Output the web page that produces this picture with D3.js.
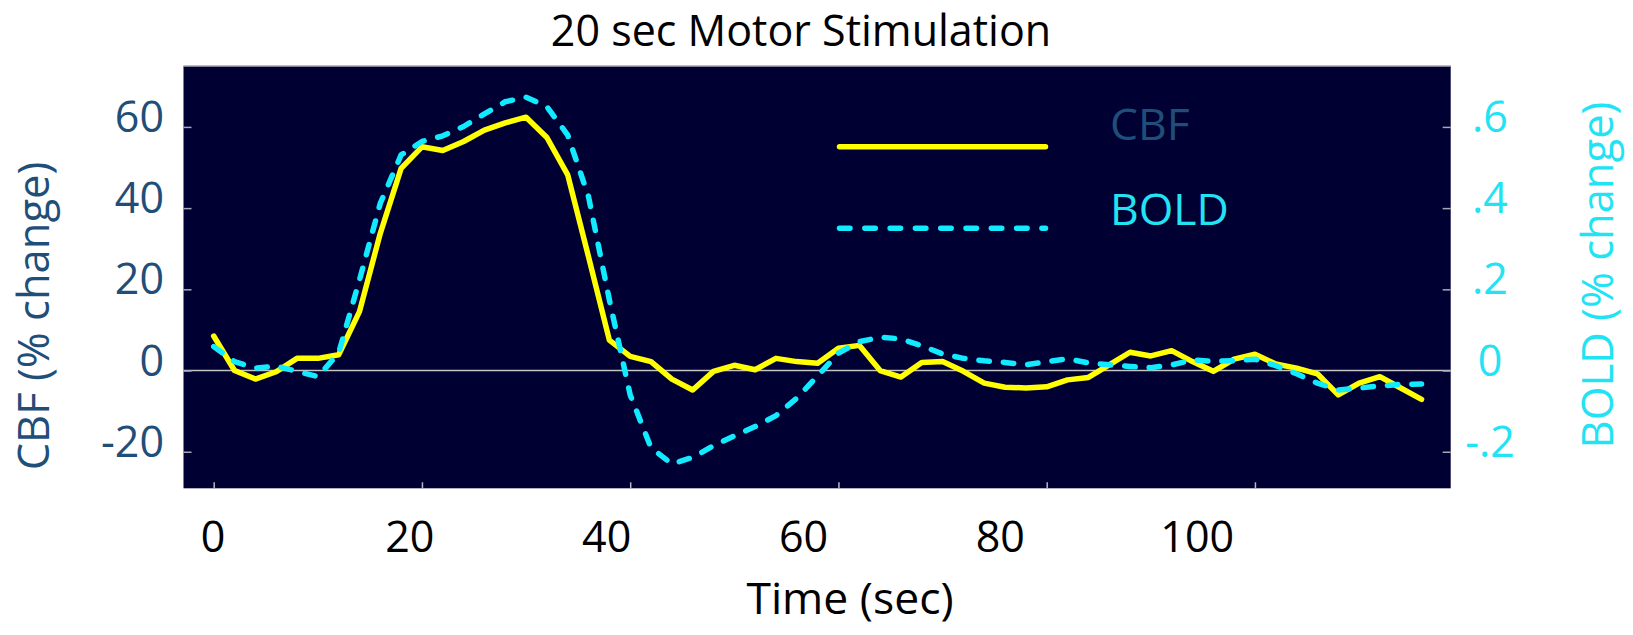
<!DOCTYPE html>
<html>
<head>
<meta charset="utf-8">
<script src="https://cdn.jsdelivr.net/npm/d3@7"></script>
<style>
  html, body { margin: 0; padding: 0; background: #ffffff; }
  svg { display: block; font-family: "Open Sans", sans-serif; }
</style>
</head>
<body>
<svg id="chart" width="1633" height="635"></svg>
<script>
// Sample times (s), one frame every 2 s
const timeSec = [0, 2, 4, 6, 8, 10, 12, 14, 16, 18, 20, 22, 24, 26, 28, 30, 32, 34, 36, 38,
  40, 42, 44, 46, 48, 50, 52, 54, 56, 58, 60, 62, 64, 66, 68, 70, 72, 74, 76, 78,
  80, 82, 84, 86, 88, 90, 92, 94, 96, 98, 100, 102, 104, 106, 108, 110, 112, 114, 116];

// Cerebral blood flow, % change
const cbfChange = [8.5, 0, -2.1, -0.3, 3.0, 3.0, 3.9, 14.5, 33.8, 49.8, 55.1, 54.2, 56.4, 59.2, 61.0, 62.4, 57.4, 48.2, 28.0, 7.5,
  3.5, 2.2, -2.1, -4.8, -0.2, 1.3, 0.2, 3.0, 2.2, 1.8, 5.5, 6.2, 0, -1.6, 2.0, 2.2, -0.2, -3.1, -4.1, -4.3,
  -4.0, -2.3, -1.7, 1.4, 4.5, 3.6, 4.9, 2.2, -0.2, 2.8, 4.0, 1.6, 0.6, -0.8, -6.0, -3.1, -1.5, -4.3, -7.1];

// BOLD signal, % change
const boldChange = [0.059, 0.022, 0.006, 0.011, -0.002, -0.015, 0.043, 0.223, 0.412, 0.531, 0.564, 0.578, 0.601, 0.632, 0.662, 0.673, 0.650, 0.580, 0.428, 0.174,
  -0.060, -0.190, -0.230, -0.214, -0.185, -0.161, -0.138, -0.111, -0.068, -0.013, 0.043, 0.071, 0.082, 0.078, 0.061, 0.041, 0.030, 0.024, 0.020, 0.014,
  0.022, 0.029, 0.019, 0.014, 0.010, 0.007, 0.014, 0.026, 0.023, 0.024, 0.028, 0.012, -0.008, -0.031, -0.048, -0.043, -0.038, -0.034, -0.033];

const timeTicks = [0, 20, 40, 60, 80, 100];
const cbfTicks = [-20, 0, 20, 40, 60];
const boldTicks = [-0.2, 0, 0.2, 0.4, 0.6];
const seriesNames = ["CBF", "BOLD"];

const colors = {
  panel: "#000033",
  cbf: "#ffff00",
  bold: "#12eaff",
  cbfText: "#1f4e79",
  boldText: "#22e3f4",
  guide: "#c4c4c4"
};

const svg = d3.select("#chart");
const plot = { left: 183.5, right: 1450.7, top: 66, bottom: 488.3 };

// Scales
const x = d3.scaleLinear().domain([-2.9, 118.8]).range([plot.left, plot.right]);
const y = d3.scaleLinear().domain([-29, 75]).range([plot.bottom, plot.top]);
const yR = d3.scaleLinear().domain([-0.29, 0.75]).range([plot.bottom, plot.top]);
// tick-label row beneath the panel
const xLabel = d3.scaleLinear().domain([0, 100]).range([212.5, 1196.7]);

// Plain hyphen for negatives, no leading zero on the BOLD scale
const cbfFmt = d => String(d);
const boldFmt = d => d === 0 ? "0" : (d < 0 ? "-" : "") + Math.abs(d).toFixed(1).replace(/^0/, "");

// Title
svg.append("text")
  .attr("x", 801).attr("y", 46)
  .attr("text-anchor", "middle")
  .attr("font-size", 43)
  .attr("fill", "#000")
  .text("20 sec Motor Stimulation");

// Dark panel
svg.append("rect")
  .attr("x", plot.left).attr("y", plot.top)
  .attr("width", plot.right - plot.left).attr("height", plot.bottom - plot.top)
  .attr("fill", colors.panel);
svg.append("line")
  .attr("x1", plot.left).attr("x2", plot.right)
  .attr("y1", plot.top).attr("y2", plot.top)
  .attr("stroke", "#a8a8b8").attr("stroke-width", 1.5);

// Zero baseline
svg.append("line")
  .attr("x1", plot.left).attr("x2", plot.right)
  .attr("y1", y(0)).attr("y2", y(0))
  .attr("stroke", colors.guide).attr("stroke-width", 1.5);

// Left axis (CBF)
const gL = svg.append("g")
  .attr("transform", `translate(${plot.left},0)`)
  .call(d3.axisLeft(y).tickValues(cbfTicks).tickSize(-8).tickPadding(19.5).tickFormat(cbfFmt));
gL.select(".domain").remove();
gL.selectAll(".tick line").attr("stroke", "#a8a8b8").attr("stroke-width", 1.5);
gL.selectAll(".tick text")
  .attr("font-size", 43).attr("font-family", "Open Sans, sans-serif")
  .attr("fill", colors.cbfText).attr("dy", 4.5);

// Right axis (BOLD)
const gR = svg.append("g")
  .attr("transform", `translate(${plot.right},0)`)
  .call(d3.axisRight(yR).tickValues(boldTicks).tickSize(-8).tickPadding(39.3).tickFormat(boldFmt));
gR.select(".domain").remove();
gR.selectAll(".tick line").attr("stroke", "#a8a8b8").attr("stroke-width", 1.5);
gR.selectAll(".tick text")
  .attr("font-size", 43).attr("font-family", "Open Sans, sans-serif")
  .attr("text-anchor", "middle")
  .attr("fill", colors.boldText).attr("dy", 4.5);

// Bottom tick marks
const gB = svg.append("g")
  .attr("transform", `translate(0,${plot.bottom})`)
  .call(d3.axisBottom(x).tickValues(timeTicks).tickSize(-6).tickFormat(""));
gB.select(".domain").remove();
gB.selectAll(".tick line").attr("stroke", "#b8b8c8").attr("stroke-width", 1.5);

// Bottom tick labels
const gBL = svg.append("g")
  .attr("transform", "translate(0,552)")
  .call(d3.axisBottom(xLabel).tickValues(timeTicks).tickSize(0).tickPadding(0).tickFormat(d3.format("d")));
gBL.select(".domain").remove();
gBL.selectAll(".tick text")
  .attr("y", 0).attr("dy", 0)
  .attr("font-size", 43).attr("font-family", "Open Sans, sans-serif")
  .attr("fill", "#000");

// Axis titles
svg.append("text")
  .attr("transform", "translate(850,614)")
  .attr("text-anchor", "middle")
  .attr("font-size", 44.5).attr("fill", "#000")
  .text("Time (sec)");
svg.append("text")
  .attr("transform", "translate(49,316) rotate(-90)")
  .attr("text-anchor", "middle")
  .attr("font-size", 43.5).attr("fill", colors.cbfText)
  .text("CBF (% change)");
svg.append("text")
  .attr("transform", "translate(1613,275) rotate(-90)")
  .attr("text-anchor", "middle")
  .attr("font-size", 43.5).attr("fill", colors.boldText)
  .text("BOLD (% change)");

// Data lines
const cbfLine = d3.line().x((d, i) => x(timeSec[i])).y(d => y(d));
const boldLine = d3.line().x((d, i) => x(timeSec[i])).y(d => yR(d));

svg.append("path")
  .datum(cbfChange)
  .attr("d", cbfLine)
  .attr("fill", "none")
  .attr("stroke", colors.cbf).attr("stroke-width", 5.5)
  .attr("stroke-linejoin", "round").attr("stroke-linecap", "round");

svg.append("path")
  .datum(boldChange)
  .attr("d", boldLine)
  .attr("fill", "none")
  .attr("stroke", colors.bold).attr("stroke-width", 5.5)
  .attr("stroke-dasharray", "10.5 14")
  .attr("stroke-linejoin", "round").attr("stroke-linecap", "round");

// Legend
const legend = svg.append("g");
const legendRows = [
  { name: seriesNames[0], stroke: colors.cbf, text: colors.cbfText, dash: null, lineY: 146.7, textY: 140 },
  { name: seriesNames[1], stroke: colors.bold, text: colors.boldText, dash: "10.5 14.8", lineY: 228.3, textY: 225 }
];
legendRows.forEach(r => {
  legend.append("line")
    .attr("x1", 839.5).attr("x2", 1045.5)
    .attr("y1", r.lineY).attr("y2", r.lineY)
    .attr("stroke", r.stroke).attr("stroke-width", 5.5)
    .attr("stroke-linecap", "round")
    .attr("stroke-dasharray", r.dash);
  legend.append("text")
    .attr("x", 1110).attr("y", r.textY)
    .attr("font-size", 44.5).attr("fill", r.text)
    .text(r.name);
});
</script>
</body>
</html>
